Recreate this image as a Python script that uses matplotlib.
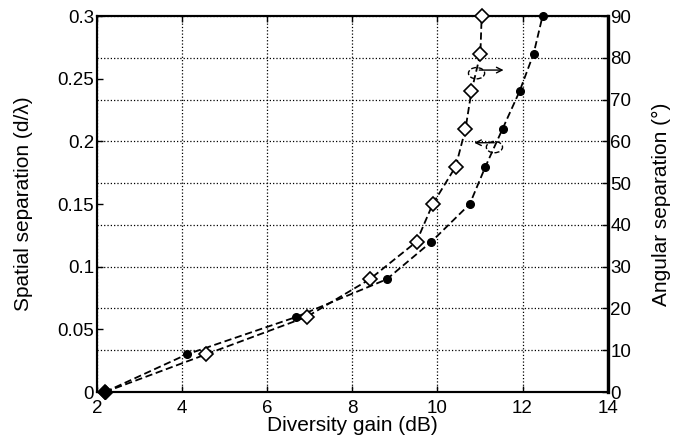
import numpy as np
import matplotlib
matplotlib.use("Agg")
import matplotlib.pyplot as plt
from matplotlib.patches import Ellipse

plt.rcParams['font.family'] = ['Liberation Sans', 'DejaVu Sans']

# spatial separation (left axis), filled dots
gain_spatial = [2.19, 4.11, 6.69, 8.81, 9.86, 10.76, 11.13, 11.53, 11.93, 12.26, 12.47]
spatial_sep = [0, 0.03, 0.06, 0.09, 0.12, 0.15, 0.18, 0.21, 0.24, 0.27, 0.30]

# angular separation (right axis), open diamonds
gain_angular = [2.19, 4.56, 6.93, 8.41, 9.51, 9.89, 10.43, 10.66, 10.80, 11.01, 11.04]
angular_sep = [0, 9, 18, 27, 36, 45, 54, 63, 72, 81, 90]

xticks = [2, 4, 6, 8, 10, 12, 14]
yticks_left = [0, 0.05, 0.1, 0.15, 0.2, 0.25, 0.3]
yticklabels_left = ['0', '0.05', '0.1', '0.15', '0.2', '0.25', '0.3']
yticks_right = [0, 10, 20, 30, 40, 50, 60, 70, 80, 90]

fs_tick = 13.5
fs_lab = 15
fig = plt.figure(figsize=(6.82, 4.38), dpi=100)
ax = fig.add_axes([0.142, 0.105, 0.749, 0.858])
ax2 = ax.twinx()

ax.plot(gain_spatial, spatial_sep, 'k--', lw=1.3, marker='o', ms=5.5,
        mfc='k', mec='k', dashes=(4, 2), zorder=3, clip_on=False)
ax2.plot(gain_angular, angular_sep, 'k--', lw=1.3, marker='D', ms=7.5,
         mfc='white', mec='k', mew=1.2, dashes=(4, 2), zorder=3, clip_on=False)
# both curves start at the same point, which shows as a filled diamond
ax2.plot(gain_angular[:1], angular_sep[:1], 'kD', ms=7.5, zorder=4, clip_on=False)

ax.set_xlim(2, 14)
ax.set_ylim(0, 0.3)
ax2.set_ylim(0, 90)
ax.set_xticks(xticks)
ax.set_yticks(yticks_left)
ax.set_yticklabels(yticklabels_left)
ax2.set_yticks(yticks_right)

# grid: vertical from x ticks, horizontal from right axis ticks
ax.xaxis.grid(True, ls=':', color='k', lw=0.9)
ax2.yaxis.grid(True, ls=':', color='k', lw=0.9)

for a in (ax, ax2):
    a.tick_params(direction='in', labelsize=fs_tick, length=4, width=1, top=True, pad=2)
    for s in a.spines.values():
        s.set_linewidth(1.5)
ax.tick_params(axis='x', pad=6)
ax2.spines['right'].set_linewidth(2.4)

ax.set_xlabel('Diversity gain (dB)', fontsize=fs_lab, labelpad=-1)
ax.set_ylabel('Spatial separation (d/\u03bb)', fontsize=fs_lab)
ax.yaxis.set_label_coords(-0.125, 0.5)
ax2.set_ylabel('Angular separation (\u00b0)', fontsize=fs_lab)
ax2.yaxis.set_label_coords(1.086, 0.5)

# markers indicating which axis each curve belongs to
ax.add_patch(Ellipse((10.92, 0.2545), 0.38, 0.009, fill=False, ls='--', lw=1, ec='k', zorder=4))
ax.annotate('', xy=(11.62, 0.257), xytext=(10.92, 0.257),
            arrowprops=dict(arrowstyle='->', color='k', lw=1), zorder=4)
ax.add_patch(Ellipse((11.34, 0.1955), 0.38, 0.009, fill=False, ls='--', lw=1, ec='k', zorder=4))
ax.annotate('', xy=(10.80, 0.199), xytext=(11.40, 0.199),
            arrowprops=dict(arrowstyle='->', color='k', lw=1), zorder=4)

fig.savefig('out.png', dpi=100)
